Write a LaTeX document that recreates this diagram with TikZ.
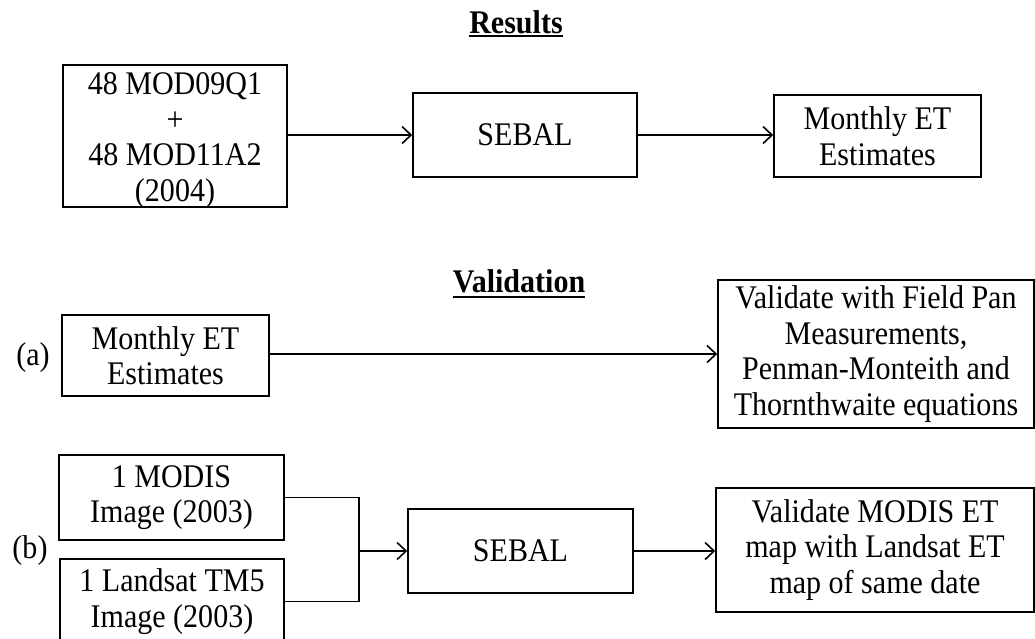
\documentclass[tikz,border=0pt]{standalone}
\usepackage{fontspec}
\setmainfont[FakeStretch=0.91]{Liberation Serif}
\usetikzlibrary{arrows.meta}
\tikzset{
  box/.style={draw, line width=1.6pt, inner sep=0pt, align=center,
    font=\fontsize{33}{35.5}\selectfont},
  ttl/.style={font=\fontsize{33}{35.5}\selectfont\bfseries, inner sep=0pt, anchor=base},
  lbl/.style={font=\fontsize{33}{35.5}\selectfont, inner sep=0pt},
  conn/.style={line width=1.6pt},
  arr/.style={line width=1.6pt, -{Straight Barb[length=9pt,width=17pt,line width=1.6pt]}},
}
\begin{document}
\begin{tikzpicture}[x=1pt,y=-1pt]
\clip (0,0) rectangle (1035,638);
\fill[white] (0,0) rectangle (1035,638);
% titles
\node[ttl] (res) at (516,33) {Results};
\draw[line width=2.4pt] ([yshift=-3pt]res.base west) -- ([yshift=-3pt]res.base east);
\node[ttl] (val) at (519,292) {Validation};
\draw[line width=2.4pt] ([yshift=-5pt]val.base west) -- ([yshift=-5pt]val.base east);
% results row
\node[box, minimum width=224pt, minimum height=142pt] (in1) at (175,136)
  {\raisebox{-5pt}[\height][\depth]{\begin{tabular}{@{}c@{}}48 MOD09Q1\\+\\48 MOD11A2\\(2004)\end{tabular}}};
\node[box, minimum width=224pt, minimum height=84pt] (seb1) at (525,135) {SEBAL};
\node[box, minimum width=207pt, minimum height=82pt] (met1) at (877.5,136) {Monthly ET\\Estimates};
\draw[arr] (in1.east |- seb1.west) -- (seb1.west);
\draw[arr] (seb1.east) -- (seb1.east -| met1.west);
% validation (a)
\node[lbl] (la) at (33,358) {(a)};
\node[box, minimum width=207pt, minimum height=81pt] (meta) at (165.5,355.5) {Monthly ET\\Estimates};
\node[box, minimum width=316pt, minimum height=148pt] (vala) at (876,354) {Validate with Field Pan\\Measurements,\\Penman-Monteith and\\Thornthwaite equations};
\draw[arr] (meta.east |- vala.west) -- (vala.west);
% validation (b)
\node[lbl] (lb) at (30,551) {(b)};
\node[box, minimum width=225pt, minimum height=85pt] (modis) at (171.5,497.5) {1 MODIS\\Image (2003)};
\node[box, minimum width=224pt, minimum height=85pt] (lsat) at (172,601.5) {1 Landsat TM5\\Image (2003)};
\node[box, minimum width=225pt, minimum height=84pt] (seb2) at (520.5,551) {SEBAL};
\node[box, minimum width=318pt, minimum height=124pt] (valb) at (875,550) {Validate MODIS ET\\map with Landsat ET\\map of same date};
\coordinate (jn) at (359,551);
\draw[conn] (modis.east) -| (jn) |- (lsat.east);
\draw[arr] (jn) -- (seb2.west);
\draw[arr] (seb2.east) -- (seb2.east -| valb.west);
\end{tikzpicture}
\end{document}
